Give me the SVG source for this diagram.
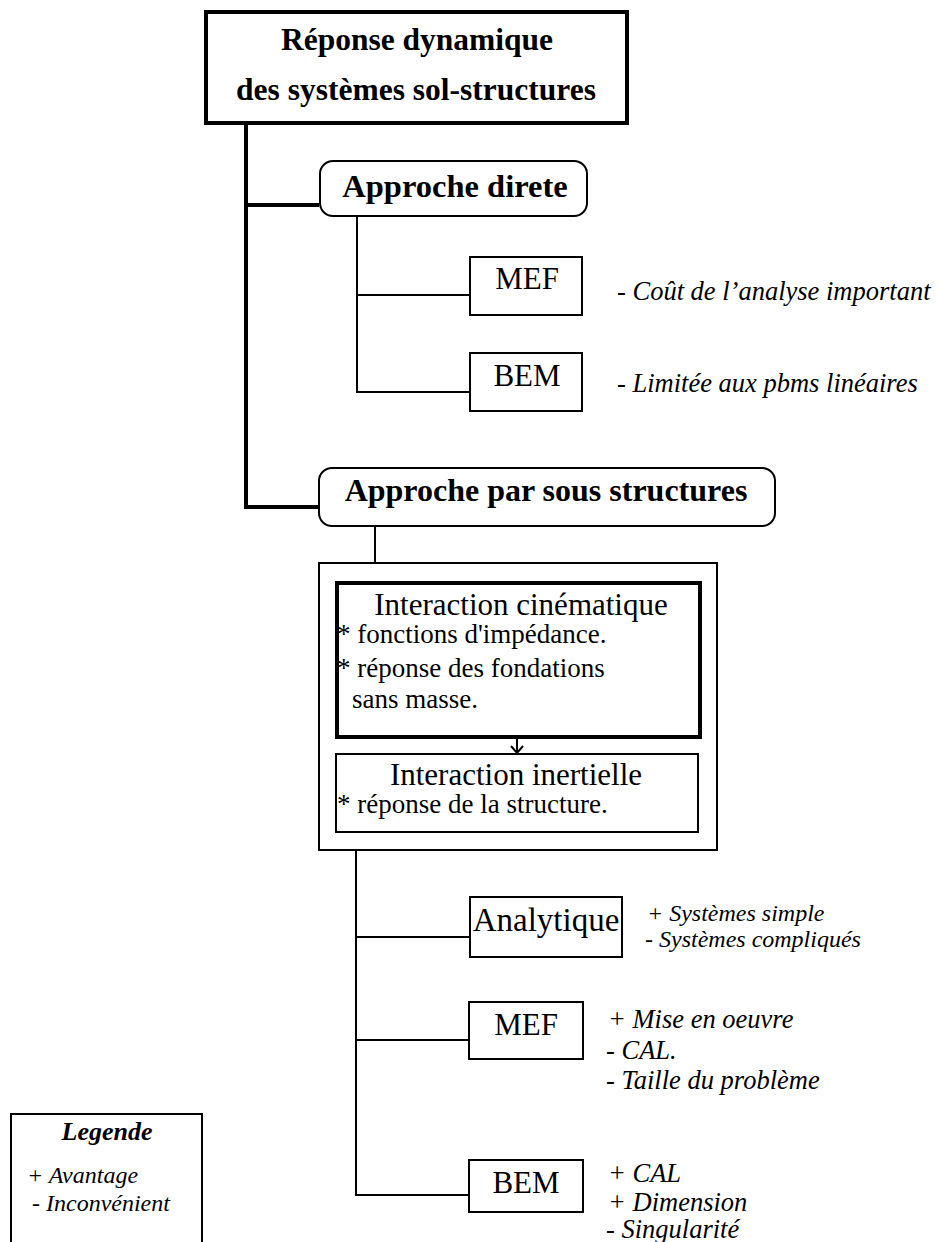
<svg xmlns="http://www.w3.org/2000/svg" width="939" height="1242" viewBox="0 0 939 1242">
<style>
text{font-family:"Liberation Serif","Times New Roman",serif;fill:#000}
.b{font-weight:bold}
.i{font-style:italic}
.box{fill:#fff;stroke:#000;stroke-width:2}
.thick{fill:#fff;stroke:#000;stroke-width:4}
.c{fill:none;stroke:#000;stroke-width:2}
.ct{fill:none;stroke:#000;stroke-width:4}
.m{text-anchor:middle}
</style>
<rect width="939" height="1242" fill="#fff"/>
<g id="n-top">
<rect class="thick" x="206" y="12" width="421" height="111"/>
<text class="b m" x="417" y="50" font-size="31.5">Réponse dynamique</text>
<text class="b m" x="416" y="100" font-size="31.5">des systèmes sol-structures</text>
</g>
<g id="n-directe">
<rect class="box" x="320" y="161" width="267" height="55" rx="13"/>
<text class="b m" x="455" y="197" font-size="32.5">Approche direte</text>
</g>
<g id="n-mef1">
<rect class="box" x="470" y="257" width="112" height="58"/>
<text class="m" x="527" y="289" font-size="31">MEF</text>
<text class="i" x="617" y="300" font-size="26.5">- Coût de l’analyse important</text>
</g>
<g id="n-bem1">
<rect class="box" x="470" y="353" width="112" height="58"/>
<text class="m" x="527" y="386" font-size="31">BEM</text>
<text class="i" x="617" y="392" font-size="26.5">- Limitée aux pbms linéaires</text>
</g>
<g id="n-sous">
<rect class="box" x="319" y="468" width="456" height="58" rx="13"/>
<text class="b m" x="546" y="501" font-size="32">Approche par sous structures</text>
</g>
<g id="n-outer">
<rect class="box" x="319" y="563" width="398" height="287"/>
</g>
<g id="n-cine">
<rect class="thick" x="337" y="583" width="363" height="154"/>
<text class="m" x="521" y="615" font-size="31">Interaction cinématique</text>
<text x="337" y="643" font-size="27">* fonctions d'impédance.</text>
<text x="337" y="677" font-size="27">* réponse des fondations</text>
<text x="352" y="708" font-size="27">sans masse.</text>
</g>
<g id="n-inert">
<rect class="box" x="336" y="754" width="362" height="78"/>
<text class="m" x="516" y="785" font-size="31">Interaction inertielle</text>
<text x="337" y="813" font-size="27">* réponse de la structure.</text>
</g>
<g id="n-analytique">
<rect class="box" x="470" y="897" width="152" height="60"/>
<text class="m" x="546" y="931" font-size="33">Analytique</text>
<text class="i" x="647" y="921" font-size="24">+ Systèmes simple</text>
<text class="i" x="645" y="947" font-size="24">- Systèmes compliqués</text>
</g>
<g id="n-mef2">
<rect class="box" x="469" y="1002" width="114" height="57"/>
<text class="m" x="526" y="1035" font-size="31">MEF</text>
<text class="i" x="608" y="1028" font-size="26.5">+ Mise en oeuvre</text>
<text class="i" x="606" y="1059" font-size="26.5">- CAL.</text>
<text class="i" x="606" y="1089" font-size="26.5">- Taille du problème</text>
</g>
<g id="n-bem2">
<rect class="box" x="469" y="1160" width="114" height="52"/>
<text class="m" x="526" y="1193" font-size="31">BEM</text>
<text class="i" x="608" y="1182" font-size="26.5">+ CAL</text>
<text class="i" x="608" y="1211" font-size="26.5">+ Dimension</text>
<text class="i" x="606" y="1238" font-size="26.5">- Singularité</text>
</g>
<g id="legend">
<path class="c" d="M11,1244 V1114 H202 V1244"/>
<text class="b i m" x="107" y="1140" font-size="26">Legende</text>
<text class="i" x="27" y="1183" font-size="24">+ Avantage</text>
<text class="i" x="32" y="1211" font-size="24">- Inconvénient</text>
</g>
<g id="connectors">
<path class="ct" d="M246,125 V507 H318 M246,205 H319"/>
<path class="c" d="M357,217 V392 H469 M357,295 H469"/>
<path class="c" d="M375,527 V562"/>
<path class="c" d="M517,739 V753 M511,746 L517,753 L523,746"/>
<path class="c" d="M356,851 V1195 H468 M356,937 H469 M356,1040 H468"/>
</g>
</svg>
